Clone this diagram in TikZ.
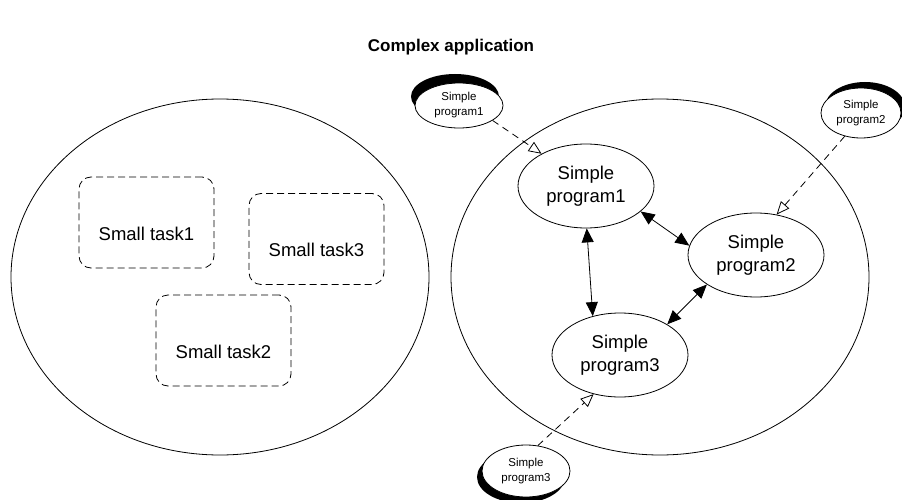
\documentclass[tikz,border=0pt]{standalone}
\usepackage{fontspec}
\setmainfont{Liberation Sans}
\usetikzlibrary{shapes.geometric,arrows.meta,shadows}

\begin{document}
\begin{tikzpicture}[x=1pt,y=-1pt,
  outer/.style={ellipse, draw, line width=0.8pt, minimum width=418pt, minimum height=356pt, inner sep=0pt},
  prog/.style={ellipse, draw, fill=white, line width=0.8pt, minimum width=136pt, minimum height=84pt,
    inner sep=0pt, align=center, font=\fontsize{18.5}{23}\selectfont},
  mini/.style={ellipse, draw, fill=white, line width=0.8pt, inner sep=0pt, align=center,
    font=\fontsize{11.5}{15}\selectfont},
  taskbox/.style={draw, dash pattern=on 7pt off 4pt, rounded corners=12pt, line width=0.8pt,
    minimum width=135pt, minimum height=91pt},
  tasklabel/.style={font=\fontsize{18.5}{22}\selectfont},
  link/.style={line width=0.8pt, {Triangle[length=14pt,width=12pt]}-{Triangle[length=14pt,width=12pt]}},
  feed/.style={line width=0.8pt, dash pattern=on 7pt off 5pt, -{Triangle[open,length=13pt,width=11pt]}},
]
\useasboundingbox (0,0) rectangle (902,500);

% title
\node[font=\fontsize{17}{20}\selectfont\bfseries] (title) at (451,47) {Complex application};

% the two halves of the application
\node[outer] (left) at (220,277) {};
\node[outer] (right) at (660,277) {};

% small tasks on the left
\node[taskbox] (t1) at (146.5,222.5) {};
\node[tasklabel] (t1l) at ([yshift=-11pt]t1.center) {Small task1};
\node[taskbox] (t3) at (316.5,239) {};
\node[tasklabel] (t3l) at ([yshift=-11pt]t3.center) {Small task3};
\node[taskbox] (t2) at (223.5,340.5) {};
\node[tasklabel] (t2l) at ([yshift=-11pt]t2.center) {Small task2};

% cooperating programs on the right
\node[prog] (p1) at (586,186) {Simple\\program1};
\node[prog] (p2) at (756,255) {Simple\\program2};
\node[prog] (p3) at (620,355) {Simple\\program3};

% stand-alone programs outside
\node[mini, minimum width=88pt, minimum height=45pt,
  general shadow={fill=black, shadow xshift=-4pt, shadow yshift=9pt}] (sp1) at (459,105.5) {Simple\\program1};
\node[mini, minimum width=80pt, minimum height=50pt,
  general shadow={fill=black, shadow xshift=4pt, shadow yshift=6pt}] (sp2) at (861,113) {Simple\\program2};
\node[mini, minimum width=88pt, minimum height=52pt,
  general shadow={fill=black, shadow xshift=-5pt, shadow yshift=-6pt}] (sp3) at (526,471) {Simple\\program3};

% communication between programs
\draw[link] (p1.-89) -- (p3.125);
\draw[link] (p1.-25) -- (p2.172);
\draw[link] (p2.211) -- (p3.33);

% programs being brought in
\draw[feed] (sp1.-24) -- (p1.144);
\draw[feed] (sp2.-125) -- (p2.63);
\draw[feed] (sp3.65) -- (p3.236);
\end{tikzpicture}
\end{document}
